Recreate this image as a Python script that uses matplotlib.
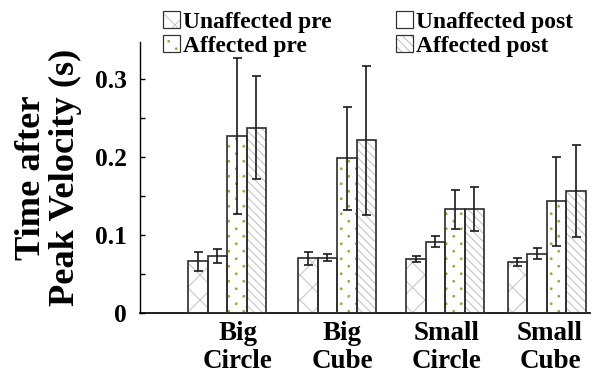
import numpy as np
import matplotlib
matplotlib.use("Agg")
import matplotlib.pyplot as plt
import matplotlib.hatch as mhatch
from matplotlib.path import Path
from matplotlib.patches import Patch
from matplotlib.legend_handler import HandlerTuple
from matplotlib.ticker import MultipleLocator

# values
categories = ["Big\nCircle", "Big\nCube", "Small\nCircle", "Small\nCube"]
series = ["Unaffected pre", "Unaffected post", "Affected pre", "Affected post"]
unaff_pre = [0.066, 0.070, 0.069, 0.065]
unaff_pre_err = [0.012, 0.008, 0.004, 0.005]
unaff_post = [0.073, 0.071, 0.091, 0.076]
unaff_post_err = [0.009, 0.005, 0.007, 0.007]
aff_pre = [0.227, 0.198, 0.133, 0.143]
aff_pre_err = [0.100, 0.066, 0.025, 0.057]
aff_post = [0.237, 0.221, 0.133, 0.156]
aff_post_err = [0.066, 0.095, 0.028, 0.059]

DPI = 75  # hatch tile = 1 inch, so this sets hatch spacing


def px(v):
    # pixel size -> points
    return v * 72.0 / DPI


class StaggeredDots(mhatch.HatchPatternBase):
    # sparse staggered dots for the '.' hatch (n columns, 2n rows per tile)
    def __init__(self, hatch, density):
        self.n = hatch.count('.') * 5
        self.circle = Path.unit_circle()
        self.num_vertices = 2 * self.n * self.n * len(self.circle.vertices)

    def set_vertices_and_codes(self, vertices, codes):
        cv = self.circle.vertices * 0.011
        k = len(cv)
        i = 0
        for r in range(2 * self.n):
            y = (r + 0.5) / (2 * self.n)
            shift = 0.25 if r % 2 == 0 else 0.75
            for c in range(self.n):
                vertices[i:i + k] = cv + ((c + shift) / self.n, y)
                codes[i:i + k] = self.circle.codes
                i += k


mhatch._hatch_types[mhatch._hatch_types.index(mhatch.SmallFilledCircles)] = StaggeredDots

plt.rcParams['font.family'] = ['Liberation Serif', 'DejaVu Serif']
plt.rcParams['font.weight'] = 'bold'
plt.rcParams['hatch.linewidth'] = px(1.1)

# layout (x axis in pixel-like units of the original picture)
group_pos = np.array([227.0, 337.0, 445.0, 546.5])
label_pos = [238, 342, 447, 550]
bw = 19.5
offsets = np.array([-1.5, -0.5, 0.5, 1.5]) * bw

vals = [unaff_pre, unaff_post, aff_pre, aff_post]
errs = [unaff_pre_err, unaff_post_err, aff_pre_err, aff_post_err]
hatches = ['x', '', '.', '\\\\\\']
hatch_cols = ['#c8c8c8', 'white', '#a3a53a', '#c4c4c4']
edge = '#303030'

fig = plt.figure(figsize=(592 / DPI, 374 / DPI), dpi=DPI)
ax = fig.add_axes([140 / 592, 61 / 374, 450 / 592, 271 / 374])

handles = []
for v, e, h, hc, off, name in zip(vals, errs, hatches, hatch_cols, offsets, series):
    x = group_pos + off
    ax.bar(x, v, bw, color='white', edgecolor=hc, hatch=h, linewidth=0, zorder=2)
    ax.bar(x, v, bw, fill=False, edgecolor=edge, linewidth=px(1.7), zorder=3)
    ax.errorbar(x, v, yerr=e, fmt='none', ecolor='#202020', elinewidth=px(1.7),
                capsize=px(4.5), capthick=px(1.7), zorder=4)
    p1 = Patch(facecolor='white', edgecolor=hc, hatch=h, linewidth=0)
    p2 = Patch(fill=False, edgecolor=edge, linewidth=px(1.2))
    handles.append((p1, p2))

ax.set_xlim(140, 590)
ax.set_ylim(0, 0.347)
ax.set_xticks(label_pos)
ax.set_xticklabels(categories, fontsize=px(27), linespacing=1.15)
ax.tick_params(axis='x', length=0, pad=px(8))
ax.set_yticks([0, 0.1, 0.2, 0.3])
ax.set_yticklabels(['0', '0.1', '0.2', '0.3'])
ax.yaxis.set_minor_locator(MultipleLocator(0.05))
ax.tick_params(axis='y', which='both', direction='in', length=px(5), width=px(1.4),
               labelsize=px(25.5), pad=px(13))
for s in ['top', 'right']:
    ax.spines[s].set_visible(False)
ax.spines['left'].set_linewidth(px(1.4))
ax.spines['bottom'].set_linewidth(px(1.7))

ax.set_ylabel("Time after\nPeak Velocity (s)", fontsize=px(36.5), fontweight='bold',
              linespacing=1.05, labelpad=px(13))

# legend: two columns at the top, placed separately
legend_cols = [([0, 2], 163), ([1, 3], 396)]
for idx, x0 in legend_cols:
    leg = fig.legend([handles[i] for i in idx], [series[i] for i in idx],
                     handler_map={tuple: HandlerTuple(ndivide=1, pad=0)},
                     frameon=False, loc='upper left',
                     bbox_to_anchor=(x0 / 592, 1 - 11 / 374), fontsize=px(23.5),
                     handlelength=0.72, handleheight=0.72, handletextpad=0.12,
                     labelspacing=0.1, borderpad=0, borderaxespad=0)

fig.savefig("out.png", dpi=DPI)
